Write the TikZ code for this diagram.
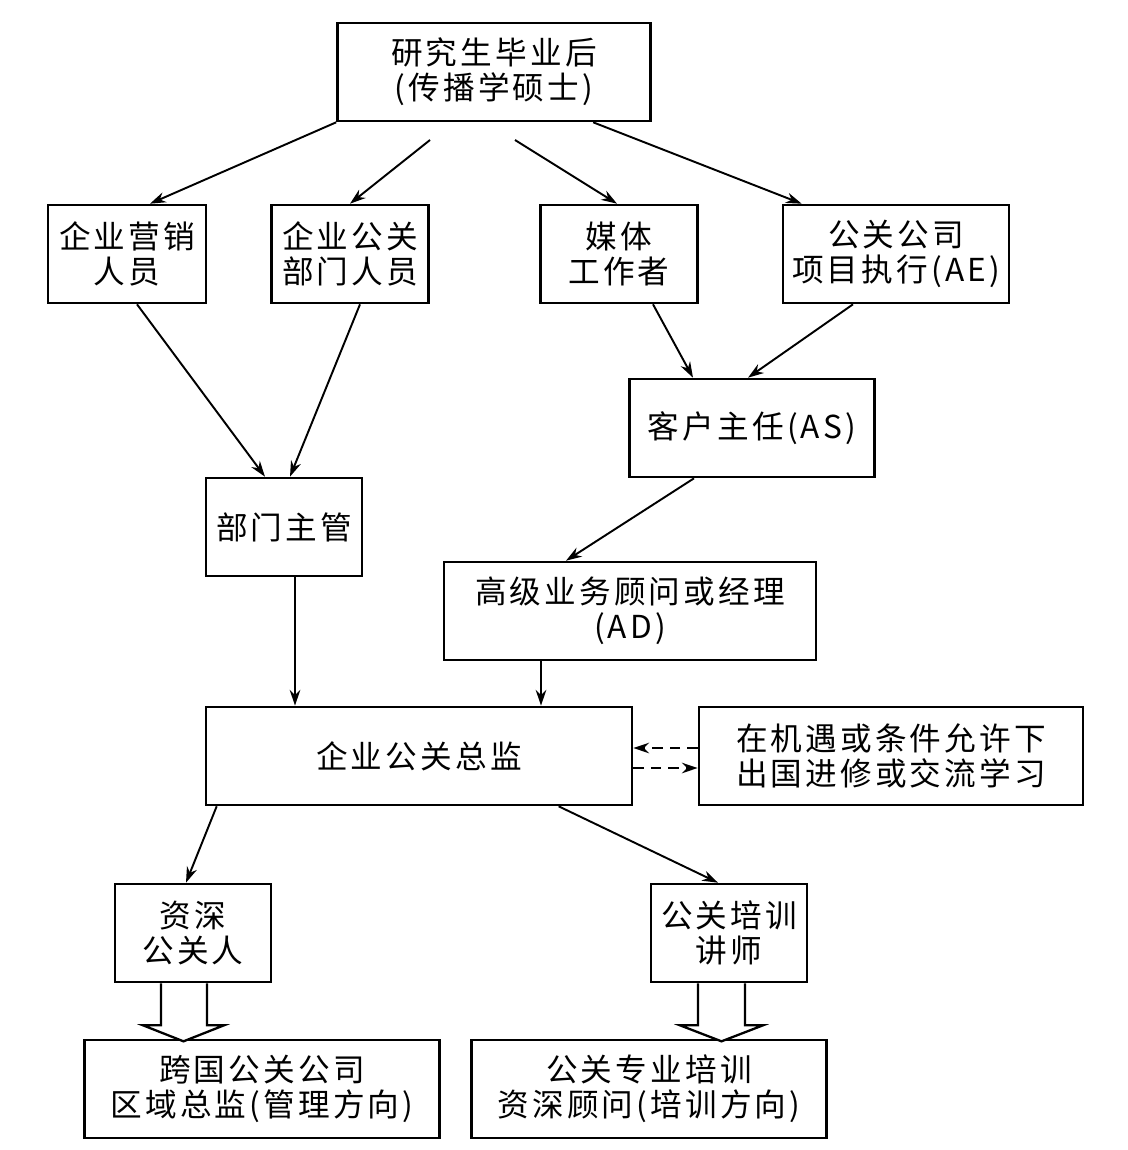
\documentclass[tikz,border=0pt]{standalone}
\usepackage{fontspec}
\setmainfont{Noto Sans CJK SC}[LetterSpace=10]
\usepackage{tikz}
\usetikzlibrary{arrows.meta, positioning, calc}

\begin{document}
\begin{tikzpicture}[
  x=0.02cm, y=-0.02cm,
  box/.style={draw, line width=1.5pt, fill=white, inner sep=2pt,
              minimum width=#1*0.02cm, minimum height=1.96cm,
              align=center, font=\fontsize{18pt}{20pt}\selectfont},
  arr/.style={-{Stealth[length=9pt, width=6pt]}, line width=1.1pt},
  darr/.style={arr, dash pattern=on 6pt off 4pt},
  hol/.style={line width=1.3pt, fill=white, line join=miter}
]
\useasboundingbox (0,0) rectangle (1128,1150);

\node[box=313] (top)  at (494,72)   {研究生毕业后\\(传播学硕士)};
\node[box=158] (yx)   at (127,254)  {企业营销\\人员};
\node[box=157] (gg)   at (350,254)  {企业公关\\部门人员};
\node[box=157] (mt)   at (619,254)  {媒体\\工作者};
\node[box=226] (ae)   at (896,254)  {公关公司\\项目执行(AE)};
\node[box=245] (as)   at (752,428)  {客户主任(AS)};
\node[box=156] (zg)   at (284,527)  {部门主管};
\node[box=372] (ad)   at (630,611)  {高级业务顾问或经理\\(AD)};
\node[box=426] (zj)   at (419,756)  {企业公关总监};
\node[box=384] (cg)   at (891,756)  {在机遇或条件允许下\\出国进修或交流学习};
\node[box=156] (zs)   at (193,933)  {资深\\公关人};
\node[box=156] (px)   at (729,933)  {公关培训\\讲师};
\node[box=355] (kg)   at (262,1089) {跨国公关公司\\区域总监(管理方向)};
\node[box=355] (gw)   at (649,1089) {公关专业培训\\资深顾问(培训方向)};

% from the top
\coordinate (t1) at (430,140);
\coordinate (t2) at (515,140);
\draw[arr] (top.south west) -- ($(yx.north)+(23,0)$);
\draw[arr] (t1) -- (gg.north);
\draw[arr] (t2) -- ($(mt.north)+(-2,0)$);
\draw[arr] ($(top.south west)+(257,0)$) -- ($(ae.north west)+(20,0)$);

% second row
\draw[arr] ($(yx.south)+(10,0)$) -- ($(zg.north)+(-19,0)$);
\draw[arr] ($(gg.south)+(10,0)$) -- ($(zg.north)+(6,0)$);
\draw[arr] ($(mt.south)+(34,0)$) -- ($(as.north)+(-59,0)$);
\draw[arr] ($(ae.south)+(-43,0)$) -- ($(as.north)+(-4,0)$);
\draw[arr] ($(as.south)+(-58,0)$) -- ($(ad.north)+(-64,0)$);

% to the director
\draw[arr] ($(zg.south)+(11,0)$) coordinate (p1) -- (p1 |- zj.north);
\draw[arr] ($(ad.south)+(-89,0)$) coordinate (p2) -- (p2 |- zj.north);
\draw[darr] ($(cg.west)+(0,-8)$) -- ($(zj.east)+(0,-8)$);
\draw[darr] ($(zj.east)+(0,12)$) -- ($(cg.west)+(0,12)$);

% down
\draw[arr] ($(zj.south west)+(12,0)$) -- ($(zs.north)+(-7,0)$);
\draw[arr] ($(zj.south west)+(354,0)$) -- ($(px.north)+(-11,0)$);

% hollow arrows
\draw[hol] ($(zs.south)+(-32,0)$) -- ++(0,42) -- ++(-18,0) -- ++(40.5,16)
  -- ++(40.5,-16) -- ++(-17,0) -- ++(0,-42);
\draw[hol] ($(px.south)+(-31,0)$) -- ++(0,42) -- ++(-18,0) -- ++(41.5,16)
  -- ++(41.5,-16) -- ++(-18,0) -- ++(0,-42);
\end{tikzpicture}
\end{document}
